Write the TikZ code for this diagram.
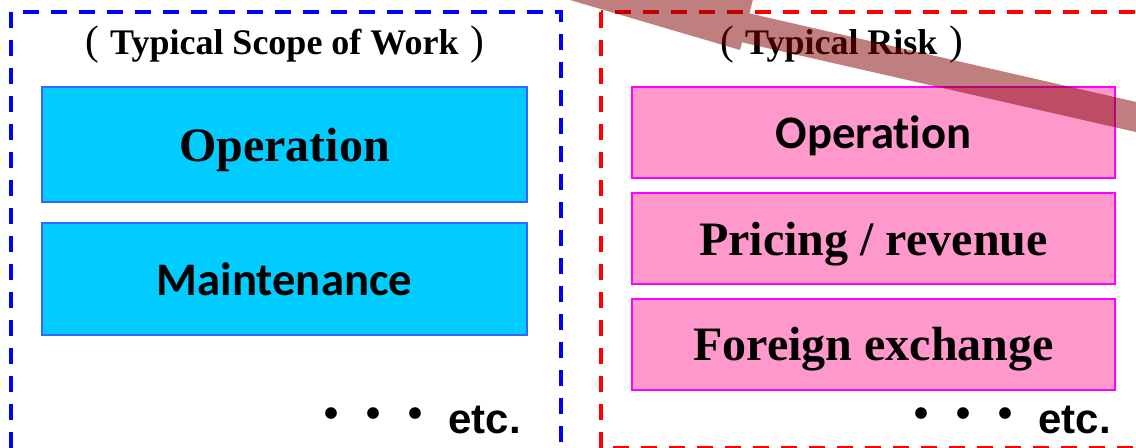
\documentclass[tikz,border=0pt]{standalone}
\usepackage{fontspec}
\newfontfamily\labelserif{Liberation Serif}
\newfontfamily\labelsans[Ligatures=NoCommon]{Carlito}
\newfontfamily\etcsans{Liberation Sans}
\newfontfamily\cjkfont{Noto Sans CJK JP}

\definecolor{scopefill}{RGB}{0,204,255}
\definecolor{scopeline}{RGB}{51,102,255}
\definecolor{riskfill}{RGB}{255,153,204}
\definecolor{riskline}{RGB}{255,0,255}
\definecolor{bandred}{RGB}{128,0,0}

% tall thin brackets round the group headings
\newcommand{\hdopen}{{\mdseries\fontsize{31}{31}\selectfont(}\hspace{8pt}}
\newcommand{\hdclose}{\hspace{9pt}{\mdseries\fontsize{31}{31}\selectfont)}}

\tikzset{
    groupframe/.style={line width=2.5pt, dash pattern=on 12pt off 9pt},
    scopebox/.style={draw=scopeline, fill=scopefill, line width=1.5pt,
        minimum width=363.75pt, inner sep=0pt},
    riskbox/.style={draw=riskline, fill=riskfill, line width=1.5pt,
        minimum width=362.25pt, minimum height=68.25pt, inner sep=0pt},
    serifname/.style={font=\labelserif\bfseries\fontsize{36}{40}\selectfont, text depth=0pt},
    sansname/.style={font=\labelsans\bfseries\fontsize{35}{40}\selectfont, text depth=0pt},
    headline/.style={font=\labelserif\bfseries\fontsize{27}{30}\selectfont},
    etcline/.style={font=\etcsans\bfseries\fontsize{31.5}{36}\selectfont,
        anchor=base east, inner sep=0pt},
}

\begin{document}
\begin{tikzpicture}[x=0.75pt, y=-0.75pt]
    \useasboundingbox (0,0) rectangle (1136,447);
    \clip (0,0) rectangle (1136,447);

    % dashed group frames
    \draw[groupframe, blue] (11,12) rectangle (561,470);
    \draw[groupframe, red] (601,12) rectangle (1160,448);

    % scope of work
    \node[headline] (scopetitle) at (285,45) {\hdopen Typical Scope of Work\hdclose};
    \node[scopebox, minimum height=86.25pt, serifname] (scopeop) at (284.5,144.5) {Operation};
    \node[scopebox, minimum height=84pt, sansname] (scopemnt) at (284.5,279) {Maintenance};
    \node[etcline] (scopeetc) at (521,433) {\raisebox{3pt}{\cjkfont ・・・} etc.};

    % risks
    \node[headline] (risktitle) at (842,45) {\hdopen Typical Risk\hdclose};
    \node[riskbox, sansname] (riskop) at (873.5,132.5) {Operation};
    \node[riskbox, serifname] (riskprice) at (873.5,238.5) {Pricing / revenue};
    \node[riskbox, serifname] (riskfx) at (873.5,344) {Foreign exchange};
    \node[etcline] (risketc) at (1111,433) {\raisebox{3pt}{\cjkfont ・・・} etc.};

    % big translucent arrow across the top
    \fill[bandred, fill opacity=0.5]
        (400,-50) -- (756,-12) -- (749.4,13.4) -- (1200,116.6)
        -- (1200,146.6) -- (742,42.3) -- (740,50) -- cycle;
\end{tikzpicture}
\end{document}
